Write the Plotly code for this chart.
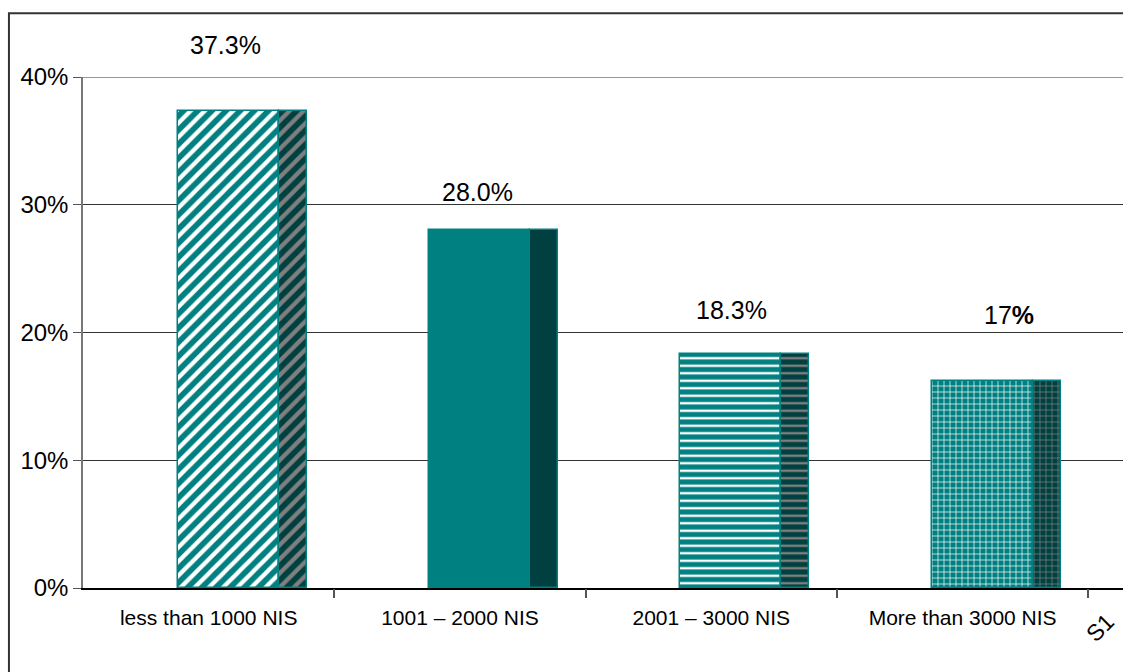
import plotly.graph_objects as go

categories = ["less than 1000 NIS", "1001 – 2000 NIS", "2001 – 3000 NIS", "More than 3000 NIS"]
values = [37.3, 28.0, 18.3, 16.2]
value_labels = ["37.3%", "28.0%", "18.3%", "17<b>%</b>"]
series_name = "S1"
y_ticks = [0, 10, 20, 30, 40]
y_tick_labels = ["0%", "10%", "20%", "30%", "40%"]

# styling
patterns = ["/", "", "-", "+"]
pattern_sizes = [10, 8, 7.5, 6]
pattern_solidity = [0.42, 0.3, 0.32, 0.22]
label_dx = [17, 18, 20, 46]
label_dy = [66, 38, 44, 66]
TEAL = "#008080"
DARK = "#004040"
FONT = "Arial, Liberation Sans, sans-serif"

xs = list(range(len(categories)))
front_w, side_w, off = 0.4016, 0.111, -0.123

fig = go.Figure()
fig.add_trace(go.Bar(
    x=xs, y=values, width=[front_w] * len(xs), offset=off,
    marker=dict(
        color=TEAL,
        line=dict(color=TEAL, width=1.5),
        pattern=dict(shape=patterns, fgcolor="white", bgcolor=TEAL,
                     size=pattern_sizes, solidity=pattern_solidity, fillmode="replace"),
    ),
    showlegend=False, hoverinfo="skip",
))
fig.add_trace(go.Bar(
    x=xs, y=values, width=[side_w] * len(xs), offset=off + front_w,
    marker=dict(
        color=DARK,
        line=dict(color=TEAL, width=1.5),
        pattern=dict(shape=patterns, fgcolor="#7f7f7f", bgcolor=DARK,
                     size=pattern_sizes, solidity=pattern_solidity, fillmode="replace"),
    ),
    showlegend=False, hoverinfo="skip",
))
# invisible trace on secondary x axis for boundary tick marks
fig.add_trace(go.Scatter(x=[0], y=[0], xaxis="x2", mode="markers",
                         marker=dict(opacity=0), showlegend=False, hoverinfo="skip"))

for i, (v, lab) in enumerate(zip(values, value_labels)):
    fig.add_annotation(x=i, y=v, text=lab, showarrow=False, xshift=label_dx[i], yshift=label_dy[i],
                       font=dict(family=FONT, size=25, color="black"))

# series label rotated
fig.add_annotation(x=3.545, y=0, text=series_name, showarrow=False, textangle=-45,
                   yshift=-40, font=dict(family=FONT, size=23, color="black"))

xr = [-0.5, 3.638]
fig.update_layout(
    width=1123, height=672,
    margin=dict(l=83, r=0, t=77, b=84),
    paper_bgcolor="white", plot_bgcolor="white",
    barmode="overlay", bargap=0,
    font=dict(family=FONT, color="black"),
    xaxis=dict(range=xr, tickvals=xs, ticktext=categories, ticks="", showgrid=False,
               showline=True, linecolor="black", linewidth=2, zeroline=False,
               tickfont=dict(size=21, family=FONT), ticklabelstandoff=10),
    xaxis2=dict(range=xr, overlaying="x", tickvals=[0.5, 1.5, 2.5, 3.5], ticktext=["", "", "", ""],
                ticks="outside", ticklen=9, tickcolor="#555", tickwidth=1.5, showgrid=False,
                showline=False, zeroline=False, side="bottom", anchor="y"),
    yaxis=dict(range=[0, 40], tickvals=y_ticks, ticktext=y_tick_labels, ticks="outside",
               ticklen=8, tickcolor="#555", showgrid=True, gridcolor="#333", gridwidth=1,
               showline=True, linecolor="#777", linewidth=1.5, zeroline=False,
               tickfont=dict(size=24, family=FONT)),
    shapes=[
        dict(type="rect", xref="paper", yref="paper", x0=-0.0712, x1=1.05, y0=-0.2, y1=1.125,
             line=dict(color="#333", width=2), fillcolor="rgba(0,0,0,0)", layer="below"),
        dict(type="line", xref="paper", yref="y", x0=0, x1=1, y0=y_ticks[-1], y1=y_ticks[-1],
             line=dict(color="#333", width=1), layer="below"),
    ],
)

fig.write_html("out.html")
